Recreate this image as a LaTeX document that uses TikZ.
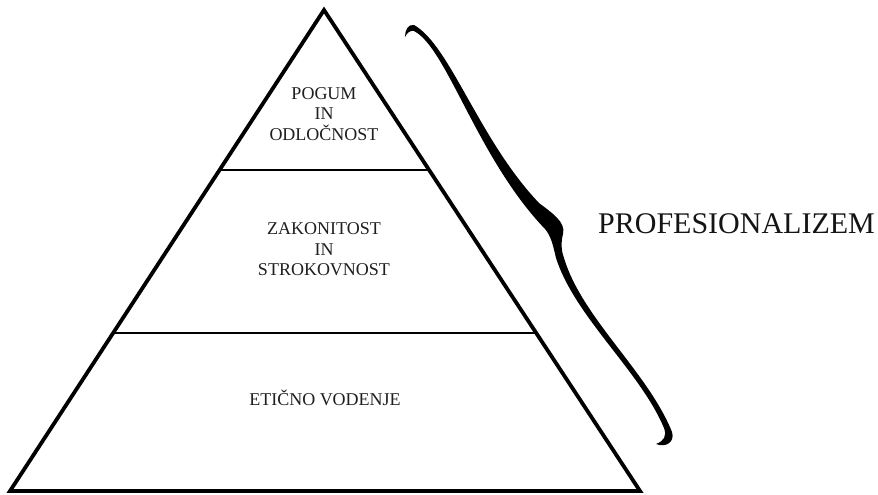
\documentclass[tikz,border=0pt]{standalone}
\usepackage{fontspec}
\setmainfont{Liberation Serif}
\usetikzlibrary{calc}
\begin{document}
\begin{tikzpicture}[x=1pt,y=-1pt,
  lbl/.style={align=center, font=\fontsize{18}{20.5}\selectfont, inner sep=0pt, text=black!88},
  big/.style={font=\fontsize{30}{34}\selectfont, inner sep=0pt, text=black!92},
  outline/.style={line width=3.8pt, line join=miter},
  tier/.style={line width=2pt}]
\useasboundingbox (0,0) rectangle (878,495);
\fill[white] (0,0) rectangle (878,495);
% pyramid corners
\coordinate (A) at (324,10);
\coordinate (BL) at (10,491);
\coordinate (BR) at (640,491);
\draw[outline] (A) -- (BL) -- (BR) -- cycle;
% tier lines
\coordinate (L1) at ($(A)!0.3326!(BL)$);
\coordinate (R1) at ($(A)!0.3326!(BR)$);
\coordinate (L2) at ($(A)!0.6715!(BL)$);
\coordinate (R2) at ($(A)!0.6715!(BR)$);
\draw[tier] (L1) -- (R1);
\draw[tier] (L2) -- (R2);
% labels
\node[lbl] (top) at (324,114) {POGUM\\IN\\ODLOČNOST};
\node[lbl] (mid) at (324,249.5) {ZAKONITOST\\IN\\STROKOVNOST};
\node[lbl, anchor=base] (bot) at (325,405) {ETIČNO VODENJE};
\node[big, anchor=base west] (prof) at (598,233) {PROFESIONALIZEM};
% brace
\fill[black] (405,37) .. controls (405,30) and (408,24) .. (414,25)
  .. controls (450,45) and (479,140) .. (539,203)
  .. controls (552,213) and (566,222) .. (563,234)
  .. controls (561,242) and (561,250) .. (564,258)
  .. controls (582,318) and (648,372) .. (672,432)
  .. controls (675,442) and (666,448) .. (656,444)
  .. controls (664,441) and (667,436) .. (664,428)
  .. controls (640,371) and (575,317) .. (556,258)
  .. controls (553,245) and (551,236) .. (545,229)
  .. controls (477,158) and (447,48) .. (414,31)
  .. controls (410,30) and (407,33) .. (405,37) -- cycle;
\end{tikzpicture}
\end{document}
